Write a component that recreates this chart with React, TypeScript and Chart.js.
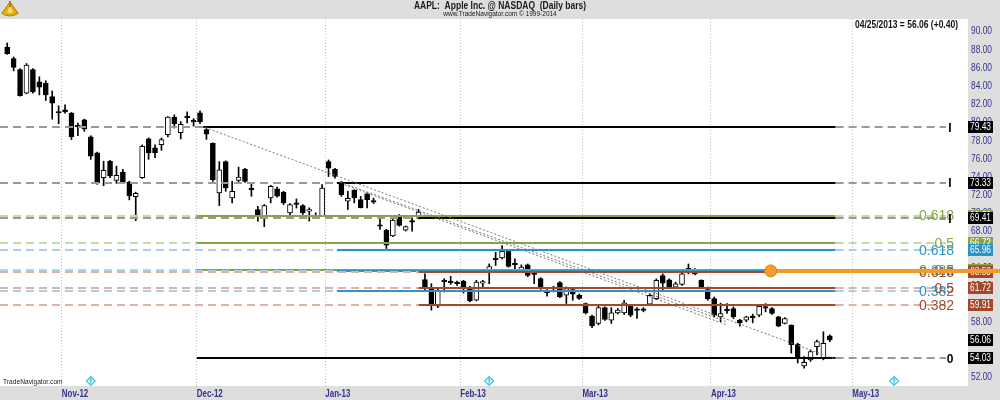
import React, { useEffect, useRef } from 'react';
import { Chart, registerables } from 'chart.js';

Chart.register(...registerables);

// ---------- data ----------
const monthNames = ['Oct-12', 'Nov-12', 'Dec-12', 'Jan-13', 'Feb-13', 'Mar-13', 'Apr-13', 'May-13'];
const monthSlots = [9, 21, 20, 21, 19, 20, 22, 18];
const axisMonths = ['Nov-12', 'Dec-12', 'Jan-13', 'Feb-13', 'Mar-13', 'Apr-13', 'May-13'];

const opens = [
  88.26, 86.99, 85.79, 83.17, 85.79, 84.44, 84.26, 82.81, 81.1, 81.35,
  80.99, 79.6, 80.26, 78.37, 76.62, 73.9, 75.7, 73.6, 74.5, 73.4,
  71.8, 73.9, 78.15, 77.17, 77.53, 78.63, 80.55, 78.85, 80.6, 80.12,
  81.01, 79.19, 77.66, 72.21, 75.65, 71.65, 73.59, 74.82, 72.65, 70.39,
  69.66, 71.65, 72.65, 72.28, 70.02, 71.05, 70.82, 70.21, 69.75, 69.66,
  75.65, 74.82, 73.37, 71.3, 72.5, 71.48, 72.1, 71.3, 68.65, 68.1,
  67.48, 69.75, 68.13, 69.1, 69.65, 62.67, 61.69, 59.76, 62.55, 62.47,
  62.4, 62.52, 61.87, 60.41, 62.3, 63.69, 64.96, 65.07, 65.87, 64.4,
  63.69, 64.3, 63.35, 62.78, 61.35, 61.8, 62.34, 60.96, 61.58, 60.96,
  60.05, 58.67, 57.87, 59.6, 58.23, 59.03, 59.03, 59.76, 59.4, 59.4,
  59.97, 60.59, 63.13, 62.66, 61.86, 62.15, 63.86, 63.75, 62.59, 61.57,
  60.59, 58.59, 59.33, 59.5, 58.22, 58.22, 58.6, 58.77, 59.62, 59.5,
  58.59, 57.86, 57.68, 55.6, 53.2, 53.86, 55.3, 54.04, 56.5,
];
const highs = [
  88.7, 87.17, 85.9, 86.44, 85.9, 84.99, 84.55, 83.42, 81.79, 81.9,
  81.06, 79.9, 80.33, 78.5, 76.7, 75.7, 75.8, 75.16, 74.8, 73.5,
  72.3, 77.5, 78.26, 77.5, 78.26, 80.6, 80.8, 80.05, 81.12, 80.39,
  81.23, 79.3, 77.73, 75.65, 75.75, 73.48, 75.05, 74.93, 73.3, 70.75,
  70.93, 73.05, 72.85, 72.39, 71.05, 71.55, 70.93, 70.57, 70.02, 73.12,
  75.84, 74.93, 73.48, 72.39, 72.57, 71.84, 72.21, 71.65, 69.3, 68.21,
  69.65, 69.84, 68.57, 69.48, 70.39, 63.32, 62.23, 61.69, 62.78, 63.03,
  62.52, 62.6, 61.94, 62.6, 62.6, 64.41, 65.69, 66.41, 65.94, 64.96,
  64.3, 64.4, 63.5, 62.9, 61.58, 61.94, 62.45, 61.87, 61.69, 61.1,
  60.1, 58.78, 59.8, 59.7, 59.6, 59.5, 60.4, 59.9, 59.6, 59.6,
  61.13, 62.77, 63.31, 62.77, 62.4, 63.39, 64.4, 63.9, 62.66, 61.86,
  60.77, 60.1, 60.04, 59.68, 58.3, 58.66, 58.88, 59.86, 60.04, 59.6,
  58.66, 58.5, 57.7, 55.68, 54.22, 54.95, 56.04, 56.95, 56.6,
];
const lows = [
  87.46, 85.64, 82.84, 83.1, 83.17, 82.99, 82.37, 80.33, 79.82, 80.99,
  78.08, 78.5, 78.99, 75.9, 73.16, 73.0, 73.9, 73.27, 73.27, 71.45,
  69.17, 73.8, 75.9, 76.1, 76.9, 78.37, 79.35, 78.15, 79.92, 79.55,
  79.84, 78.1, 73.48, 70.82, 72.39, 71.12, 73.37, 73.37, 71.85, 69.12,
  68.5, 71.12, 71.75, 70.93, 69.75, 70.55, 69.84, 69.12, 69.48, 69.59,
  74.02, 73.84, 71.84, 70.39, 71.12, 70.57, 70.57, 71.05, 68.21, 66.1,
  67.41, 68.57, 68.02, 68.02, 69.35, 61.5, 59.32, 59.6, 61.32, 62.16,
  62.05, 61.2, 60.23, 60.34, 61.87, 62.23, 64.23, 64.96, 64.05, 63.69,
  63.6, 63.0, 62.23, 61.6, 60.85, 61.32, 60.7, 60.05, 60.41, 60.5,
  58.9, 57.4, 57.7, 58.2, 57.87, 58.9, 58.85, 58.6, 58.41, 59.14,
  59.86, 60.48, 61.5, 61.79, 61.79, 62.04, 63.31, 63.2, 61.79, 60.4,
  58.59, 58.04, 58.95, 58.4, 57.57, 58.04, 57.93, 58.6, 59.13, 58.86,
  57.5, 57.8, 54.6, 53.5, 52.95, 53.68, 54.4, 53.86, 55.86,
];
const closes = [
  87.54, 86.01, 82.92, 86.26, 83.35, 83.83, 82.99, 82.08, 81.0, 81.13,
  78.37, 79.5, 79.24, 76.25, 73.35, 74.7, 74.08, 74.15, 73.35, 71.9,
  72.18, 77.35, 76.6, 76.6, 78.08, 80.55, 79.8, 79.75, 80.5, 80.02,
  80.02, 78.68, 73.66, 74.75, 72.75, 72.39, 73.95, 73.48, 72.55, 69.66,
  70.82, 72.93, 71.85, 71.12, 70.93, 70.95, 70.02, 70.39, 69.55, 72.75,
  74.93, 74.02, 72.02, 71.62, 71.65, 70.57, 71.48, 71.2, 68.55, 66.46,
  69.22, 68.65, 68.5, 69.0, 70.1, 61.87, 59.87, 61.5, 62.45, 62.35,
  62.23, 61.87, 60.34, 62.41, 62.4, 64.12, 64.85, 65.8, 64.12, 64.3,
  64.05, 63.14, 63.25, 61.69, 61.25, 61.7, 60.78, 61.69, 61.07, 60.6,
  59.03, 57.58, 59.6, 58.3, 59.03, 59.32, 60.12, 58.78, 59.3, 59.3,
  60.95, 62.59, 62.3, 61.86, 62.22, 63.31, 63.75, 63.31, 61.86, 60.59,
  58.77, 58.95, 59.25, 58.59, 57.93, 58.59, 58.5, 59.75, 59.55, 58.95,
  57.57, 58.4, 55.5, 54.04, 53.57, 54.77, 55.86, 55.66, 56.06,
];

const yTickValues = [52, 54, 56, 58, 60, 62, 64, 66, 68, 70, 72, 74, 76, 78, 80, 82, 84, 86, 88, 90];
const yMin = 50.98;
const yMax = 91.34;

// Fibonacci tool levels
const fibHighs = [79.43, 73.33, 69.41];
const fibHighStarts = [30.5, 51.3, 64];
const fibZero = 54.03;
const fibZeroStart = 29.5;
const fibRatios = ['0.618', '0.5', '0.382'];
const greenLevels = [69.73, 66.72, 63.73];
const blueLevels = [65.96, 63.68, 61.4];
const brownLevels = [63.53, 61.72, 59.91];
const fibSetStarts = [29.5, 51.3, 64];
const fibSolidEnd = 128.9;

// dotted trend lines (index, price)
const trendFromIdx = [30.8, 51.8, 52.5];
const trendFromPrice = [79.4, 73.4, 73.1];
const trendToIdx = [128.6, 112, 112];
const trendToPrice = [54.0, 58.04, 57.7];

const rayPrice = 63.64;
const rayStartIdx = 118.8;
const dividendIdx = [13, 75, 138];
const lastDate = '04/25/2013';

// ---------- styles ----------
const SANS = '"Liberation Sans", Arial, sans-serif';
const BAND = '#dedede';
const NAVY = '#33338f';
const GREEN = '#86a544';
const GREEN_L = '#c8daa4';
const BLUE = '#2b95c9';
const BLUE_L = '#a6d3ea';
const BROWN = '#a5472b';
const BROWN_L = '#e0b2a4';

// ---------- derived tables ----------
const categories: string[] = [];
const monthLabelAt: Record<number, string> = {};
monthNames.forEach((m, mi) => {
  if (axisMonths.includes(m)) monthLabelAt[categories.length] = m;
  for (let k = 0; k < monthSlots[mi]; k++) categories.push(m + '#' + (k + 1));
});

// condensed text helper (narrow face emulation)
function narrowText(ctx: CanvasRenderingContext2D, text: string, x: number, y: number, font: string, color: string, align: CanvasTextAlign, sx: number) {
  ctx.save();
  ctx.font = font;
  ctx.fillStyle = color;
  ctx.textAlign = align;
  ctx.textBaseline = 'middle';
  ctx.translate(x, y);
  ctx.scale(sx, 1);
  ctx.fillText(text, 0, 0);
  ctx.restore();
}

const overlayPlugin = {
  id: 'overlay',
  beforeDraw(chart: any) {
    const { ctx, chartArea: a, width: W, height: H } = chart;
    ctx.save();
    ctx.fillStyle = '#ffffff';
    ctx.fillRect(0, 0, W, H);
    ctx.fillStyle = BAND;
    ctx.fillRect(0, 0, W, a.top);
    ctx.fillRect(a.right, 0, W - a.right, H);
    ctx.fillRect(0, a.bottom, W, H - a.bottom);
    // title
    narrowText(ctx, 'AAPL:  Apple Inc. @ NASDAQ  (Daily bars)', W / 2, 6.5, 'bold 10px ' + SANS, '#1a1a1a', 'center', 0.85);
    narrowText(ctx, 'www.TradeNavigator.com \u00a9 1999-2014', W / 2, 14.5, '7px ' + SANS, '#1a1a1a', 'center', 0.93);
    // logo (sextant)
    ctx.fillStyle = '#dcb012';
    ctx.strokeStyle = '#a98300';
    ctx.lineWidth = 1;
    ctx.beginPath();
    ctx.moveTo(10, 2);
    ctx.arc(10, 2, 14, Math.PI * 0.3, Math.PI * 0.7);
    ctx.closePath();
    ctx.fill();
    ctx.stroke();
    ctx.fillStyle = '#f5dc6a';
    ctx.beginPath();
    ctx.moveTo(10, 5);
    ctx.arc(10, 5, 8, Math.PI * 0.38, Math.PI * 0.62);
    ctx.closePath();
    ctx.fill();
    ctx.fillStyle = '#a98300';
    ctx.fillRect(9, 1, 2, 6);
    ctx.restore();
  },
  afterDatasetsDraw(chart: any) {
    const { ctx, chartArea: a, scales } = chart;
    const xs = scales.x;
    const ys = scales.y;
    const X = (i: number) => xs.getPixelForValue(i);
    const Y = (v: number) => ys.getPixelForValue(v);
    const solidEnd = X(fibSolidEnd);
    const dashEnd = a.right - 22;
    ctx.save();
    const seg = (x1: number, x2: number, y: number, color: string, width: number, dash: number[]) => {
      ctx.beginPath();
      ctx.setLineDash(dash);
      ctx.strokeStyle = color;
      ctx.lineWidth = width;
      ctx.moveTo(x1, y);
      ctx.lineTo(x2, y);
      ctx.stroke();
    };
    const level = (v: number, start: number, color: string, light: string, leftDash: boolean) => {
      const y = Math.round(Y(v));
      if (leftDash) seg(a.left - 4, X(start), y, light, 2, [8, 5]);
      seg(X(start), solidEnd, y, color, 2, []);
      seg(solidEnd, dashEnd, y, light, 2, [8, 5]);
    };
    fibHighs.forEach((v, k) => level(v, fibHighStarts[k], '#000', '#9a9a9a', true));
    level(fibZero, fibZeroStart, '#000', '#9a9a9a', false);
    greenLevels.forEach((v) => level(v, fibSetStarts[0], GREEN, GREEN_L, true));
    blueLevels.forEach((v) => level(v, fibSetStarts[1], BLUE, BLUE_L, true));
    brownLevels.forEach((v) => level(v, fibSetStarts[2], BROWN, BROWN_L, true));
    // trend lines
    ctx.setLineDash([2, 2]);
    ctx.strokeStyle = '#7a7a7a';
    ctx.lineWidth = 1;
    trendFromIdx.forEach((fi, k) => {
      ctx.beginPath();
      ctx.moveTo(X(fi), Y(trendFromPrice[k]));
      ctx.lineTo(X(trendToIdx[k]), Y(trendToPrice[k]));
      ctx.stroke();
    });
    ctx.restore();
  },
  afterDraw(chart: any) {
    const { ctx, chartArea: a, scales, width: W } = chart;
    const xs = scales.x;
    const ys = scales.y;
    const X = (i: number) => xs.getPixelForValue(i);
    const Y = (v: number) => ys.getPixelForValue(v);
    ctx.save();
    ctx.setLineDash([]);

    // month labels (x scale ticks), left aligned at month boundary
    xs.ticks.forEach((_t: any, i: number) => {
      const lab = monthLabelAt[i];
      if (!lab) return;
      const bx = (X(i - 1) + X(i)) / 2;
      narrowText(ctx, lab, bx, a.bottom + 7.5, 'bold 11px ' + SANS, NAVY, 'left', 0.72);
    });
    // price labels (y scale ticks)
    ys.ticks.forEach((t: any) => {
      narrowText(ctx, Number(t.value).toFixed(2), a.right + 3, Y(t.value) + 0.5, '10px ' + SANS, NAVY, 'left', 0.84);
    });

    // ratio labels
    ctx.textAlign = 'right';
    ctx.textBaseline = 'middle';
    ctx.font = '14px ' + SANS;
    const labelX = a.right - 14;
    greenLevels.forEach((v, k) => { ctx.fillStyle = GREEN; ctx.fillText(fibRatios[k], labelX, Y(v) + 1); });
    blueLevels.forEach((v, k) => { ctx.fillStyle = BLUE; ctx.fillText(fibRatios[k], labelX, Y(v) + 1); });
    brownLevels.forEach((v, k) => { ctx.fillStyle = BROWN; ctx.fillText(fibRatios[k], labelX, Y(v) + 1); });
    ctx.fillStyle = '#000';
    ctx.textAlign = 'center';
    ctx.font = 'bold 12px ' + SANS;
    fibHighs.forEach((v) => ctx.fillText('I', a.right - 18, Y(v) + 1));
    ctx.fillText('0', a.right - 18, Y(fibZero) + 1);

    // price boxes on the axis
    const box = (v: number, bg: string) => {
      const y = Math.round(Y(v));
      ctx.fillStyle = bg;
      ctx.fillRect(a.right, y - 6, 25, 12);
      narrowText(ctx, v.toFixed(2), a.right + 12.5, y + 0.5, '10px ' + SANS, '#ffffff', 'center', 0.84);
    };
    box(fibHighs[0], '#000');
    box(fibHighs[1], '#000');
    box(greenLevels[0], GREEN);
    box(fibHighs[2], '#000');
    box(greenLevels[1], GREEN);
    box(blueLevels[0], BLUE);
    box(greenLevels[2], GREEN);
    box(blueLevels[1], BLUE);
    box(brownLevels[0], BROWN);
    box(brownLevels[1], BROWN);
    box(brownLevels[2], BROWN);
    box(closes[closes.length - 1], '#000');
    box(fibZero, '#000');

    // orange ray
    const ry = Y(rayPrice);
    const rx = X(rayStartIdx);
    ctx.strokeStyle = '#f29a2e';
    ctx.lineWidth = 4;
    ctx.beginPath();
    ctx.moveTo(rx, ry);
    ctx.lineTo(W, ry);
    ctx.stroke();
    ctx.fillStyle = '#f29a2e';
    ctx.beginPath();
    ctx.arc(rx, ry, 6, 0, Math.PI * 2);
    ctx.fill();
    ctx.strokeStyle = '#d98520';
    ctx.lineWidth = 1;
    ctx.stroke();

    // dividend diamonds
    ctx.strokeStyle = '#3cc4dd';
    ctx.lineWidth = 1.2;
    dividendIdx.forEach((i) => {
      const cx = X(i);
      const cy = a.bottom - 5;
      ctx.beginPath();
      ctx.moveTo(cx, cy - 4.5);
      ctx.lineTo(cx + 4.5, cy);
      ctx.lineTo(cx, cy + 4.5);
      ctx.lineTo(cx - 4.5, cy);
      ctx.closePath();
      ctx.stroke();
      ctx.beginPath();
      ctx.moveTo(cx, cy - 3);
      ctx.lineTo(cx, cy + 3);
      ctx.moveTo(cx - 1.5, cy - 1);
      ctx.lineTo(cx + 1.5, cy - 1);
      ctx.stroke();
    });

    // watermark
    narrowText(ctx, 'TradeNavigator.com', 3, a.bottom - 4, '7px ' + SANS, '#222', 'left', 0.95);

    // header value
    const last = closes[closes.length - 1];
    const chg = last - closes[closes.length - 2];
    narrowText(ctx, lastDate + ' = ' + last.toFixed(2) + ' (' + (chg >= 0 ? '+' : '') + chg.toFixed(2) + ')', a.right - 10, 25, 'bold 10px ' + SANS, '#111', 'right', 0.85);
    ctx.restore();
  },
};

export default function App() {
  const ref = useRef<HTMLCanvasElement | null>(null);
  useEffect(() => {
    if (!ref.current) return;
    const bodyColors = opens.map((o, i) => (closes[i] >= o ? '#ffffff' : '#000000'));
    const chart = new Chart(ref.current, {
      type: 'bar',
      data: {
        labels: categories,
        datasets: [
          {
            label: 'body',
            data: opens.map((o, i) => [o, closes[i]]) as any,
            backgroundColor: bodyColors,
            borderColor: '#000',
            borderWidth: 1,
            borderSkipped: false,
            barThickness: 5,
            minBarLength: 1.5,
            grouped: false,
            order: 0,
          } as any,
          {
            label: 'wick',
            data: lows.map((l, i) => [l, highs[i]]) as any,
            backgroundColor: '#000',
            borderWidth: 0,
            barThickness: 1,
            grouped: false,
            order: 1,
          } as any,
        ],
      },
      options: {
        animation: false,
        responsive: false,
        devicePixelRatio: 1,
        layout: { padding: { top: 19, left: 4, right: 0, bottom: 0 } },
        plugins: { legend: { display: false }, tooltip: { enabled: false }, title: { display: false } },
        scales: {
          x: {
            type: 'category',
            offset: true,
            grid: {
              offset: true,
              drawTicks: false,
              lineWidth: 1,
              color: (c: any) => (c && c.index !== undefined && monthLabelAt[c.index] ? '#c4c4c4' : 'rgba(0,0,0,0)'),
            },
            border: { display: false, dash: [1, 2] },
            ticks: {
              autoSkip: false,
              maxRotation: 0,
              minRotation: 0,
              padding: 1,
              color: 'rgba(0,0,0,0)',
              font: { family: SANS, size: 11, weight: 'bold' },
              callback: (_v: any, i: number) => monthLabelAt[i] || '',
            },
            afterFit: (s: any) => { s.height = 14; },
          } as any,
          y: {
            position: 'right',
            min: yMin,
            max: yMax,
            grid: { display: false, drawTicks: false },
            border: { display: false },
            ticks: {
              padding: 3,
              color: 'rgba(0,0,0,0)',
              font: { family: SANS, size: 10 },
              callback: (v: any) => Number(v).toFixed(2),
            },
            afterBuildTicks: (s: any) => { s.ticks = yTickValues.map((v) => ({ value: v })); },
            afterFit: (s: any) => { s.width = 32; },
          } as any,
        },
      },
      plugins: [overlayPlugin],
    });
    return () => chart.destroy();
  }, []);
  return (
    <div style={{ position: 'absolute', left: 0, top: 0, width: 1000, height: 400 }}>
      <canvas ref={ref} width={1000} height={400} style={{ display: 'block', width: 1000, height: 400 }} />
    </div>
  );
}
